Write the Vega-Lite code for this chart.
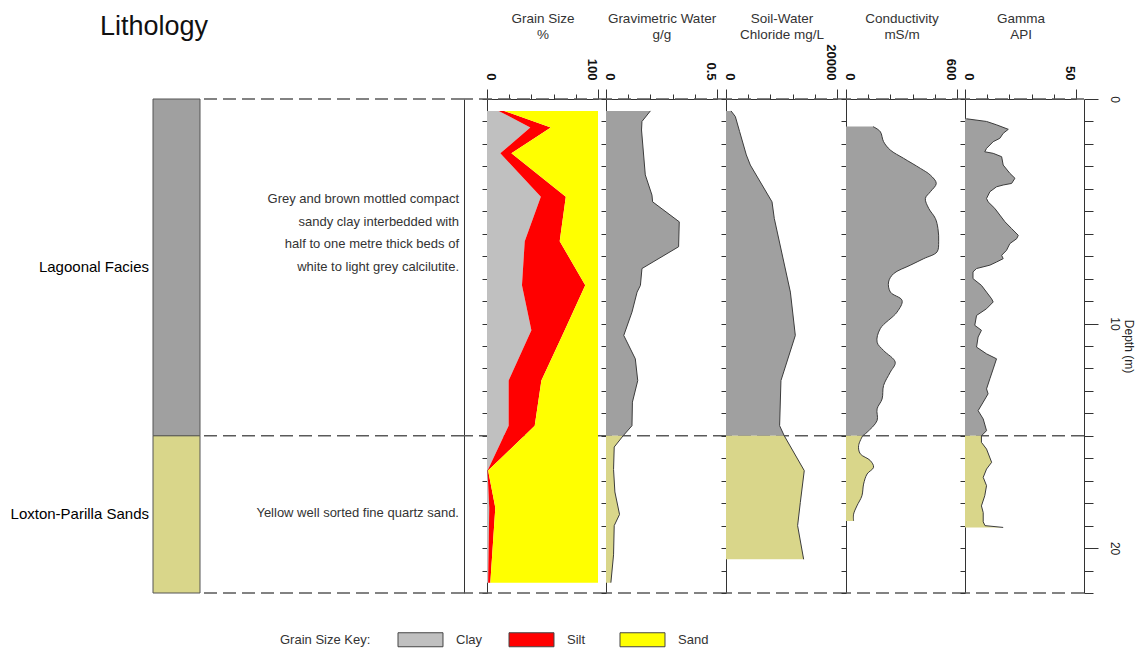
{
  "$schema": "https://vega.github.io/schema/vega-lite/v6.json",
  "background": "white",
  "padding": {"left": 10, "top": 11, "right": 5, "bottom": 0},
  "datasets": {
    "bounds": [{"d": 0}, {"d": 15}, {"d": 22}],
    "litho": [
      {"unit": "Lagoonal Facies", "top": 0, "base": 15, "mid": 7.5,
       "desc": "Grey and brown mottled compact\nsandy clay interbedded with\nhalf to one metre thick beds of\nwhite to light grey calcilutite."},
      {"unit": "Loxton-Parilla Sands", "top": 15, "base": 22, "mid": 18.5,
       "desc": "Yellow well sorted fine quartz sand."}
    ],
    "grain": [
      {"d": 0.53, "clay": 10.5, "cs": 15.5},
      {"d": 1.27, "clay": 39, "cs": 57.5},
      {"d": 2.42, "clay": 12, "cs": 22},
      {"d": 4.35, "clay": 48.5, "cs": 71},
      {"d": 6.33, "clay": 34, "cs": 65.5},
      {"d": 8.3, "clay": 31.5, "cs": 88.5},
      {"d": 10.3, "clay": 40, "cs": 70},
      {"d": 12.54, "clay": 19.5, "cs": 49},
      {"d": 14.55, "clay": 19.5, "cs": 43},
      {"d": 16.55, "clay": 0.5, "cs": 1},
      {"d": 18.2, "clay": 2, "cs": 7.5},
      {"d": 21.54, "clay": 1, "cs": 3}
    ],
    "grav": [
      {"d": 0.53, "v": 0.2, "u": "L"}, {"d": 1.0, "v": 0.162, "u": "L"}, {"d": 1.38, "v": 0.16, "u": "L"},
      {"d": 3.38, "v": 0.177, "u": "L"}, {"d": 4.28, "v": 0.207, "u": "L"}, {"d": 4.58, "v": 0.21, "u": "L"},
      {"d": 5.47, "v": 0.33, "u": "L"}, {"d": 6.58, "v": 0.327, "u": "L"}, {"d": 7.55, "v": 0.162, "u": "L"},
      {"d": 8.3, "v": 0.155, "u": "L"}, {"d": 8.6, "v": 0.14, "u": "L"}, {"d": 9.49, "v": 0.117, "u": "L"},
      {"d": 10.53, "v": 0.08, "u": "L"}, {"d": 11.57, "v": 0.132, "u": "L"}, {"d": 12.54, "v": 0.143, "u": "L"},
      {"d": 13.5, "v": 0.119, "u": "L"}, {"d": 14.55, "v": 0.117, "u": "L"}, {"d": 15.0, "v": 0.077, "u": "L"},
      {"d": 15.0, "v": 0.077, "u": "S"}, {"d": 15.5, "v": 0.037, "u": "S"}, {"d": 16.5, "v": 0.034, "u": "S"},
      {"d": 17.5, "v": 0.04, "u": "S"}, {"d": 18.5, "v": 0.061, "u": "S"}, {"d": 19.0, "v": 0.037, "u": "S"},
      {"d": 20.3, "v": 0.034, "u": "S"}, {"d": 21.54, "v": 0.022, "u": "S"}
    ],
    "chloride": [
      {"d": 0.53, "v": 900, "u": "L"}, {"d": 0.78, "v": 1680, "u": "L"}, {"d": 1.45, "v": 2450, "u": "L"},
      {"d": 2.49, "v": 3660, "u": "L"}, {"d": 2.94, "v": 4380, "u": "L"}, {"d": 4.58, "v": 8290, "u": "L"},
      {"d": 5.32, "v": 8700, "u": "L"}, {"d": 8.6, "v": 11600, "u": "L"}, {"d": 10.53, "v": 12490, "u": "L"},
      {"d": 12.54, "v": 9900, "u": "L"}, {"d": 14.55, "v": 9660, "u": "L"}, {"d": 15.0, "v": 10500, "u": "L"},
      {"d": 15.0, "v": 10500, "u": "S"}, {"d": 16.55, "v": 14100, "u": "S"}, {"d": 17.97, "v": 13390, "u": "S"},
      {"d": 19.0, "v": 12900, "u": "S"}, {"d": 20.5, "v": 13990, "u": "S"}
    ],
    "cond": [
      {"d": 1.23, "v": 146, "u": "L"}, {"d": 1.45, "v": 185, "u": "L"}, {"d": 1.9, "v": 203, "u": "L"},
      {"d": 2.27, "v": 239, "u": "L"}, {"d": 2.64, "v": 311, "u": "L"}, {"d": 3.09, "v": 402, "u": "L"},
      {"d": 3.39, "v": 456, "u": "L"}, {"d": 3.76, "v": 488, "u": "L"}, {"d": 4.13, "v": 456, "u": "L"},
      {"d": 4.43, "v": 429, "u": "L"}, {"d": 4.87, "v": 447, "u": "L"}, {"d": 5.32, "v": 483, "u": "L"},
      {"d": 5.77, "v": 497, "u": "L"}, {"d": 6.36, "v": 501, "u": "L"}, {"d": 6.81, "v": 492, "u": "L"},
      {"d": 7.11, "v": 420, "u": "L"}, {"d": 7.4, "v": 348, "u": "L"}, {"d": 7.78, "v": 257, "u": "L"},
      {"d": 8.15, "v": 230, "u": "L"}, {"d": 8.6, "v": 240, "u": "L"}, {"d": 8.97, "v": 303, "u": "L"},
      {"d": 9.49, "v": 276, "u": "L"}, {"d": 10.23, "v": 185, "u": "L"}, {"d": 10.83, "v": 168, "u": "L"},
      {"d": 11.2, "v": 203, "u": "L"}, {"d": 11.72, "v": 266, "u": "L"}, {"d": 12.17, "v": 239, "u": "L"},
      {"d": 12.76, "v": 203, "u": "L"}, {"d": 13.36, "v": 195, "u": "L"}, {"d": 13.8, "v": 168, "u": "L"},
      {"d": 14.32, "v": 168, "u": "L"}, {"d": 14.84, "v": 114, "u": "L"}, {"d": 15.0, "v": 90, "u": "L"},
      {"d": 15.0, "v": 90, "u": "S"}, {"d": 15.44, "v": 68, "u": "S"}, {"d": 15.8, "v": 77, "u": "S"},
      {"d": 16.1, "v": 131, "u": "S"}, {"d": 16.4, "v": 149, "u": "S"}, {"d": 16.7, "v": 114, "u": "S"},
      {"d": 17.15, "v": 95, "u": "S"}, {"d": 17.67, "v": 86, "u": "S"}, {"d": 18.12, "v": 59, "u": "S"},
      {"d": 18.49, "v": 41, "u": "S"}, {"d": 18.79, "v": 41, "u": "S"}
    ],
    "gamma": [
      {"d": 0.88, "v": 0.6, "u": "L"}, {"d": 1.0, "v": 9.7, "u": "L"}, {"d": 1.15, "v": 14.2, "u": "L"},
      {"d": 1.35, "v": 19.5, "u": "L"}, {"d": 1.53, "v": 17.2, "u": "L"}, {"d": 1.75, "v": 15.7, "u": "L"},
      {"d": 1.9, "v": 12.7, "u": "L"}, {"d": 2.2, "v": 9.7, "u": "L"}, {"d": 2.35, "v": 8.9, "u": "L"},
      {"d": 2.42, "v": 12.7, "u": "L"}, {"d": 2.57, "v": 16.5, "u": "L"}, {"d": 2.94, "v": 17.2, "u": "L"},
      {"d": 3.31, "v": 20.2, "u": "L"}, {"d": 3.53, "v": 22.5, "u": "L"}, {"d": 3.76, "v": 21.0, "u": "L"},
      {"d": 3.83, "v": 17.2, "u": "L"}, {"d": 3.91, "v": 14.2, "u": "L"}, {"d": 4.13, "v": 11.2, "u": "L"},
      {"d": 4.43, "v": 9.7, "u": "L"}, {"d": 4.58, "v": 10.4, "u": "L"}, {"d": 4.87, "v": 13.4, "u": "L"},
      {"d": 5.17, "v": 15.7, "u": "L"}, {"d": 5.47, "v": 18.0, "u": "L"}, {"d": 5.77, "v": 21.0, "u": "L"},
      {"d": 6.07, "v": 24.0, "u": "L"}, {"d": 6.22, "v": 23.3, "u": "L"}, {"d": 6.44, "v": 20.2, "u": "L"},
      {"d": 6.74, "v": 18.7, "u": "L"}, {"d": 6.96, "v": 16.5, "u": "L"}, {"d": 7.11, "v": 17.2, "u": "L"},
      {"d": 7.26, "v": 14.2, "u": "L"}, {"d": 7.4, "v": 11.2, "u": "L"}, {"d": 7.55, "v": 5.2, "u": "L"},
      {"d": 7.7, "v": 3.6, "u": "L"}, {"d": 8.0, "v": 3.6, "u": "L"}, {"d": 8.3, "v": 7.4, "u": "L"},
      {"d": 8.6, "v": 9.7, "u": "L"}, {"d": 8.9, "v": 12.0, "u": "L"}, {"d": 9.04, "v": 12.7, "u": "L"},
      {"d": 9.34, "v": 9.7, "u": "L"}, {"d": 9.64, "v": 5.2, "u": "L"}, {"d": 10.08, "v": 4.4, "u": "L"},
      {"d": 10.3, "v": 7.4, "u": "L"}, {"d": 10.6, "v": 5.9, "u": "L"}, {"d": 11.05, "v": 5.2, "u": "L"},
      {"d": 11.35, "v": 9.7, "u": "L"}, {"d": 11.57, "v": 14.2, "u": "L"}, {"d": 12.02, "v": 12.7, "u": "L"},
      {"d": 12.46, "v": 11.2, "u": "L"}, {"d": 12.91, "v": 9.7, "u": "L"}, {"d": 13.13, "v": 10.4, "u": "L"},
      {"d": 13.5, "v": 8.2, "u": "L"}, {"d": 13.88, "v": 5.9, "u": "L"}, {"d": 14.25, "v": 8.2, "u": "L"},
      {"d": 14.77, "v": 9.7, "u": "L"}, {"d": 15.0, "v": 7.4, "u": "L"},
      {"d": 15.0, "v": 7.4, "u": "S"}, {"d": 15.29, "v": 7.4, "u": "S"}, {"d": 15.59, "v": 9.7, "u": "S"},
      {"d": 16.18, "v": 12.0, "u": "S"}, {"d": 16.48, "v": 9.7, "u": "S"}, {"d": 16.85, "v": 8.2, "u": "S"},
      {"d": 17.22, "v": 9.7, "u": "S"}, {"d": 17.67, "v": 8.9, "u": "S"}, {"d": 18.12, "v": 7.4, "u": "S"},
      {"d": 18.42, "v": 8.2, "u": "S"}, {"d": 18.83, "v": 8.2, "u": "S"}, {"d": 19.0, "v": 9.0, "u": "S"},
      {"d": 19.08, "v": 17.2, "u": "S"}
    ]
  },
  "spacing": 0,
  "bounds": "flush",
  "hconcat": [
    {
      "width": 47,
      "height": 494,
      "title": {"text": "Lithology", "anchor": "start", "frame": "group", "dx": -53, "offset": 37,
                "fontSize": 27, "fontWeight": "normal", "color": "#111", "baseline": "alphabetic"},
      "data": {"name": "litho"},
      "layer": [
        {
          "mark": {"type": "rect", "stroke": "#555", "strokeWidth": 1},
          "encoding": {
            "y": {"field": "top", "type": "quantitative", "scale": {"domain": [0, 22], "reverse": true, "nice": false, "zero": false}, "axis": null},
            "y2": {"field": "base"},
            "fill": {"field": "unit", "type": "nominal",
                     "scale": {"domain": ["Lagoonal Facies", "Loxton-Parilla Sands"], "range": ["#a0a0a0", "#d9d68a"]},
                     "legend": null}
          }
        },
        {
          "mark": {"type": "text", "align": "right", "baseline": "middle", "dx": -4, "fontSize": 15, "color": "#000"},
          "encoding": {
            "x": {"value": 0},
            "y": {"field": "mid", "type": "quantitative", "scale": {"domain": [0, 22], "reverse": true, "nice": false, "zero": false}, "axis": null},
            "text": {"field": "unit"}
          }
        }
      ]
    },
    {
      "width": 264,
      "height": 494,
      "data": {"name": "litho"},
      "layer": [
        {
          "data": {"name": "bounds"},
          "mark": {"type": "rule", "color": "#5a5a5a", "strokeWidth": 1.5, "strokeDash": [13, 6]},
          "encoding": {
            "y": {"field": "d", "type": "quantitative", "scale": {"domain": [0, 22], "reverse": true, "nice": false, "zero": false}, "title": null,
                  "axis": {"orient": "right", "ticks": false, "labels": false, "domain": true, "domainColor": "#333", "grid": false}}
          }
        },
        {
          "transform": [{"filter": "datum.unit == 'Lagoonal Facies'"}],
          "mark": {"type": "text", "align": "right", "baseline": "bottom", "dx": -5, "dy": -61, "fontSize": 13,
                   "lineHeight": 22.4, "lineBreak": "\n", "color": "#333"},
          "encoding": {
            "x": {"value": "width"},
            "y": {"field": "mid", "type": "quantitative", "scale": {"domain": [0, 22], "reverse": true, "nice": false, "zero": false}, "title": null,
                  "axis": {"orient": "right", "ticks": false, "labels": false, "domain": true, "domainColor": "#333", "grid": false}},
            "text": {"field": "desc"}
          }
        },
        {
          "transform": [{"filter": "datum.unit == 'Loxton-Parilla Sands'"}],
          "mark": {"type": "text", "align": "right", "baseline": "bottom", "dx": -5, "dy": 6, "fontSize": 13,
                   "lineHeight": 22.4, "lineBreak": "\n", "color": "#333"},
          "encoding": {
            "x": {"value": "width"},
            "y": {"field": "mid", "type": "quantitative", "scale": {"domain": [0, 22], "reverse": true, "nice": false, "zero": false}, "title": null,
                  "axis": {"orient": "right", "ticks": false, "labels": false, "domain": true, "domainColor": "#333", "grid": false}},
            "text": {"field": "desc"}
          }
        }
      ]
    },
    {
      "width": 142,
      "height": 494,
      "layer": [
        {
          "data": {"name": "bounds"},
          "mark": {"type": "rule", "color": "#5a5a5a", "strokeWidth": 1.5, "strokeDash": [13, 6]},
          "encoding": {
            "y": {"field": "d", "type": "quantitative", "scale": {"domain": [0, 22], "reverse": true, "nice": false, "zero": false}, "title": null,
                  "axis": {"offset": -23}}
          }
        },
        {
          "data": {"name": "grain"},
          "encoding": {
            "y": {"field": "d", "type": "quantitative", "scale": {"domain": [0, 22], "reverse": true, "nice": false, "zero": false}, "title": null,
                  "axis": {"offset": -23}},
            "x": {"field": "cs", "type": "quantitative",
                  "scale": {"domain": [0, 100], "range": [23, 134], "nice": false, "zero": false},
                  "axis": {"orient": "top", "values": [0, 20, 40, 60, 80, 100],
                           "labelExpr": "datum.index == 0 || datum.index == 1 ? '' + datum.value : ''",
                           "tickSize": {"condition": {"test": "datum.index == 0 || datum.index == 1", "value": 10}, "value": 5},
                           "labelOffset": {"condition": {"test": "datum.index == 0", "value": 3}, "value": -7},
                           "title": ["Grain Size", "%"], "titleX": 78.5}}
          },
          "layer": [
            {
              "mark": {"type": "area", "orient": "horizontal", "opacity": 1},
              "encoding": {
                "x": {"field": "clay", "type": "quantitative",
                      "scale": {"domain": [0, 100], "range": [23, 134], "nice": false, "zero": false},
                      "axis": {"orient": "top", "values": [0, 20, 40, 60, 80, 100],
                               "labelExpr": "datum.index == 0 || datum.index == 1 ? '' + datum.value : ''",
                               "tickSize": {"condition": {"test": "datum.index == 0 || datum.index == 1", "value": 10}, "value": 5},
                               "labelOffset": {"condition": {"test": "datum.index == 0", "value": 3}, "value": -7},
                               "title": ["Grain Size", "%"], "titleX": 78.5}},
                "x2": {"datum": 0},
                "color": {"datum": "Clay", "type": "nominal",
                          "scale": {"domain": ["Clay", "Silt", "Sand"], "range": ["#c0c0c0", "#ff0000", "#ffff00"]},
                          "legend": {"orient": "none", "legendX": 127, "legendY": 533, "direction": "horizontal",
                                     "title": "Grain Size Key:", "titleOrient": "left", "titleFontSize": 13,
                                     "titleFontWeight": "normal", "titleColor": "#333", "titlePadding": 42,
                                     "titleBaseline": "middle", "titleAnchor": "middle",
                                     "labelFontSize": 13, "labelColor": "#333", "labelOffset": 28,
                                     "symbolType": "M-3.214,-1H3.214V1H-3.214Z", "symbolSize": 196,
                                     "symbolStrokeColor": "#444", "symbolStrokeWidth": 1, "symbolOpacity": 1,
                                     "gridAlign": "all", "columnPadding": 20, "padding": 0}}
              }
            },
            {
              "mark": {"type": "area", "orient": "horizontal", "opacity": 1},
              "encoding": {
                "x2": {"field": "clay"},
                "color": {"datum": "Silt", "type": "nominal"}
              }
            },
            {
              "mark": {"type": "area", "orient": "horizontal", "opacity": 1},
              "encoding": {
                "x2": {"datum": 100},
                "color": {"datum": "Sand", "type": "nominal"}
              }
            }
          ]
        }
      ]
    },
    {
      "width": 120,
      "height": 494,
      "layer": [
        {
          "data": {"name": "bounds"},
          "mark": {"type": "rule", "color": "#5a5a5a", "strokeWidth": 1.5, "strokeDash": [13, 6]},
          "encoding": {
            "y": {"field": "d", "type": "quantitative", "scale": {"domain": [0, 22], "reverse": true, "nice": false, "zero": false}, "title": null}
          }
        },
        {
          "data": {"name": "grav"},
          "encoding": {
            "y": {"field": "d", "type": "quantitative", "scale": {"domain": [0, 22], "reverse": true, "nice": false, "zero": false}, "title": null},
            "x": {"field": "v", "type": "quantitative",
                  "scale": {"domain": [0, 0.5], "range": [0, 111], "nice": false, "zero": false},
                  "axis": {"orient": "top", "values": [0, 0.1, 0.2, 0.3, 0.4, 0.5],
                           "labelExpr": "datum.index == 0 || datum.index == 1 ? '' + datum.value : ''",
                           "tickSize": {"condition": {"test": "datum.index == 0 || datum.index == 1", "value": 10}, "value": 5},
                           "labelOffset": {"condition": {"test": "datum.index == 0", "value": 3}, "value": -7},
                           "title": ["Gravimetric Water", "g/g"], "titleX": 55.5}}
          },
          "layer": [
            {"transform": [{"filter": "datum.u == 'L'"}], "mark": {"type": "area", "orient": "horizontal", "color": "#a0a0a0", "opacity": 1}},
            {"transform": [{"filter": "datum.u == 'S'"}], "mark": {"type": "area", "orient": "horizontal", "color": "#d9d68a", "opacity": 1}},
            {"mark": {"type": "line", "color": "#3c3c3c", "strokeWidth": 1}, "encoding": {"order": {"field": "d", "type": "quantitative"}}}
          ]
        }
      ]
    },
    {
      "width": 120,
      "height": 494,
      "layer": [
        {
          "data": {"name": "bounds"},
          "mark": {"type": "rule", "color": "#5a5a5a", "strokeWidth": 1.5, "strokeDash": [13, 6]},
          "encoding": {
            "y": {"field": "d", "type": "quantitative", "scale": {"domain": [0, 22], "reverse": true, "nice": false, "zero": false}, "title": null}
          }
        },
        {
          "data": {"name": "chloride"},
          "encoding": {
            "y": {"field": "d", "type": "quantitative", "scale": {"domain": [0, 22], "reverse": true, "nice": false, "zero": false}, "title": null},
            "x": {"field": "v", "type": "quantitative",
                  "scale": {"domain": [0, 20000], "range": [0, 111], "nice": false, "zero": false},
                  "axis": {"orient": "top", "values": [0, 4000, 8000, 12000, 16000, 20000],
                           "labelExpr": "datum.index == 0 || datum.index == 1 ? '' + datum.value : ''",
                           "tickSize": {"condition": {"test": "datum.index == 0 || datum.index == 1", "value": 10}, "value": 5},
                           "labelOffset": {"condition": {"test": "datum.index == 0", "value": 3}, "value": -7},
                           "title": ["Soil-Water", "Chloride mg/L"], "titleX": 55.5}}
          },
          "layer": [
            {"transform": [{"filter": "datum.u == 'L'"}], "mark": {"type": "area", "orient": "horizontal", "color": "#a0a0a0", "opacity": 1}},
            {"transform": [{"filter": "datum.u == 'S'"}], "mark": {"type": "area", "orient": "horizontal", "color": "#d9d68a", "opacity": 1}},
            {"mark": {"type": "line", "color": "#3c3c3c", "strokeWidth": 1}, "encoding": {"order": {"field": "d", "type": "quantitative"}}}
          ]
        }
      ]
    },
    {
      "width": 119,
      "height": 494,
      "layer": [
        {
          "data": {"name": "bounds"},
          "mark": {"type": "rule", "color": "#5a5a5a", "strokeWidth": 1.5, "strokeDash": [13, 6]},
          "encoding": {
            "y": {"field": "d", "type": "quantitative", "scale": {"domain": [0, 22], "reverse": true, "nice": false, "zero": false}, "title": null}
          }
        },
        {
          "data": {"name": "cond"},
          "encoding": {
            "y": {"field": "d", "type": "quantitative", "scale": {"domain": [0, 22], "reverse": true, "nice": false, "zero": false}, "title": null},
            "x": {"field": "v", "type": "quantitative",
                  "scale": {"domain": [0, 600], "range": [0, 111], "nice": false, "zero": false},
                  "axis": {"orient": "top", "values": [0, 120, 240, 360, 480, 600],
                           "labelExpr": "datum.index == 0 || datum.index == 1 ? '' + datum.value : ''",
                           "tickSize": {"condition": {"test": "datum.index == 0 || datum.index == 1", "value": 10}, "value": 5},
                           "labelOffset": {"condition": {"test": "datum.index == 0", "value": 3}, "value": -7},
                           "title": ["Conductivity", "mS/m"], "titleX": 55.5}}
          },
          "layer": [
            {"transform": [{"filter": "datum.u == 'L'"}], "mark": {"type": "area", "orient": "horizontal", "color": "#a0a0a0", "opacity": 1, "interpolate": "catmull-rom"}},
            {"transform": [{"filter": "datum.u == 'S'"}], "mark": {"type": "area", "orient": "horizontal", "color": "#d9d68a", "opacity": 1, "interpolate": "catmull-rom"}},
            {"mark": {"type": "line", "color": "#3c3c3c", "strokeWidth": 1, "interpolate": "catmull-rom"}, "encoding": {"order": {"field": "d", "type": "quantitative"}}}
          ]
        }
      ]
    },
    {
      "width": 119,
      "height": 494,
      "layer": [
        {
          "data": {"name": "bounds"},
          "mark": {"type": "rule", "color": "#5a5a5a", "strokeWidth": 1.5, "strokeDash": [13, 6]},
          "encoding": {
            "y": {"field": "d", "type": "quantitative", "scale": {"domain": [0, 22], "reverse": true, "nice": false, "zero": false},
                  "title": "Depth (m)",
                  "axis": {"orient": "right", "values": [0, 1, 2, 3, 4, 5, 6, 7, 8, 9, 10, 11, 12, 13, 14, 15, 16, 17, 18, 19, 20, 21, 22],
                           "labelExpr": "datum.value % 10 == 0 ? '' + datum.value : ''",
                           "tickSize": {"condition": {"test": "datum.value % 10 == 0", "value": 14}, "value": 9},
                           "labels": true, "labelAngle": 90, "labelAlign": "center", "labelBaseline": "bottom",
                           "labelPadding": 9, "labelFontSize": 12, "labelColor": "#222",
                           "labelFlush": false, "labelOverlap": false, "labelBound": false,
                           "titleAngle": 90, "titleFontSize": 12, "titleFontWeight": "normal", "titleColor": "#222",
                           "titlePadding": 1, "domainColor": "#333", "tickColor": "#333", "grid": false}}
          }
        },
        {
          "data": {"name": "gamma"},
          "encoding": {
            "y": {"field": "d", "type": "quantitative", "scale": {"domain": [0, 22], "reverse": true, "nice": false, "zero": false}, "title": null,
                  "axis": {"orient": "left"}},
            "x": {"field": "v", "type": "quantitative",
                  "scale": {"domain": [0, 50], "range": [0, 111], "nice": false, "zero": false},
                  "axis": {"orient": "top", "values": [0, 10, 20, 30, 40, 50],
                           "labelExpr": "datum.index == 0 || datum.index == 1 ? '' + datum.value : ''",
                           "tickSize": {"condition": {"test": "datum.index == 0 || datum.index == 1", "value": 10}, "value": 5},
                           "labelOffset": {"condition": {"test": "datum.index == 0", "value": 3}, "value": -7},
                           "title": ["Gamma", "API"], "titleX": 55.5}}
          },
          "layer": [
            {"transform": [{"filter": "datum.u == 'L'"}], "mark": {"type": "area", "orient": "horizontal", "color": "#a0a0a0", "opacity": 1}},
            {"transform": [{"filter": "datum.u == 'S'"}], "mark": {"type": "area", "orient": "horizontal", "color": "#d9d68a", "opacity": 1}},
            {"mark": {"type": "line", "color": "#3c3c3c", "strokeWidth": 1}, "encoding": {"order": {"field": "d", "type": "quantitative"}}}
          ]
        }
      ],
      "resolve": {"scale": {"y": "independent"}, "axis": {"y": "independent"}}
    }
  ],
  "resolve": {"scale": {"x": "independent", "y": "independent"}},
  "config": {
    "font": "Liberation Sans",
    "view": {"stroke": null},
    "axisLeft": {"labels": false, "tickSize": 5, "tickCount": 22, "tickColor": "#333", "domainColor": "#333", "grid": false},
    "axisTop": {"labelAngle": 90, "labelAlign": "right", "labelBaseline": "middle", "labelFontSize": 13,
                "labelFontWeight": "bold", "labelColor": "#111", "labelPadding": 9,
                "tickColor": "#333", "domainColor": "#333", "grid": false,
                "labelFlush": false, "labelOverlap": false, "labelBound": false,
                "titleFontSize": 13.5, "titleFontWeight": "normal", "titleColor": "#333", "titleAngle": 0,
                "titleAlign": "center", "titleBaseline": "middle", "titleLineHeight": 16, "titleY": -81}
  }
}
